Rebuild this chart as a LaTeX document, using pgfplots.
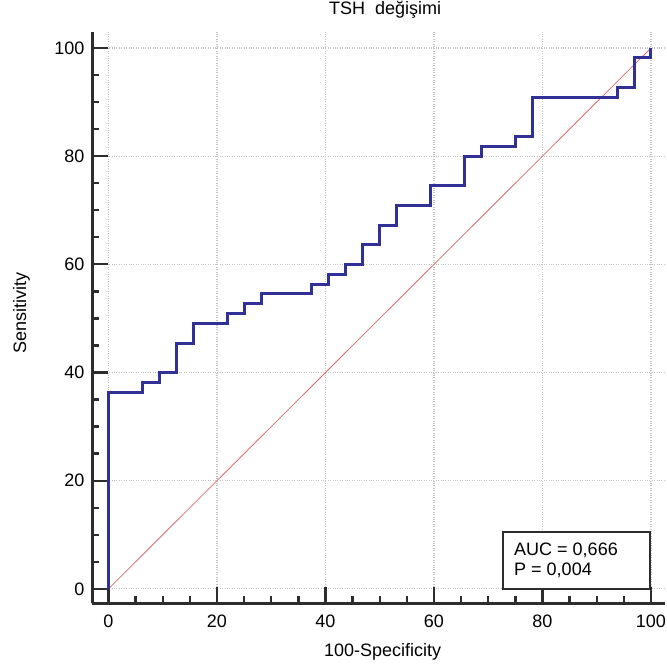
\documentclass[border=0pt]{standalone}
\usepackage{fontspec}
\setmainfont{Liberation Sans}
\usepackage{pgfplots}
\pgfplotsset{compat=1.18}

\definecolor{rocblue}{RGB}{48,48,150}
\definecolor{diagred}{RGB}{212,110,110}
\definecolor{axisgray}{RGB}{45,45,45}
\definecolor{gridgray}{RGB}{195,195,195}

\newcommand{\chartfont}{\fontsize{18}{22}\selectfont}

\begin{document}
\begin{tikzpicture}
\begin{axis}[
  width=572.5pt, height=571.5pt, scale only axis,
  xmin=-2.95, xmax=102.6, ymin=-2.68, ymax=103,
  clip=false,
  axis x line=bottom, axis y line=left,
  axis line style={-, line width=2.6pt, color=axisgray},
  xtick={0,20,...,100}, ytick={0,20,...,100},
  minor tick num=3,
  tick align=inside,
  major tick length=16pt, minor tick length=7pt,
  tick style={line width=2.3pt, color=axisgray},
  grid=major,
  major grid style={gridgray, dotted, line width=1.2pt},
  /pgf/number format/assume math mode=true,
  tick label style={font=\chartfont, text=black},
  xticklabel style={anchor=north, inner sep=0pt, yshift=-11.5pt},
  yticklabel style={anchor=east, inner sep=0pt, xshift=-8pt},
  title={TSH\ \ değişimi},
  title style={font=\chartfont, anchor=base, inner sep=0pt, at={(axis description cs:0.511,1.0198)}},
  xlabel={100-Specificity},
  xlabel style={font=\chartfont, anchor=base, inner sep=0pt, at={(axis description cs:0.5066,-0.0936)}},
  ylabel={Sensitivity},
  ylabel style={font=\chartfont, anchor=base, inner sep=0pt, rotate=0, at={(axis description cs:-0.116,0.508)}},
]
% reference diagonal
\addplot[diagred, line width=0.8pt] coordinates {(0,0) (100,100)};
% ROC curve
\addplot[rocblue, line width=3pt, sharp plot] coordinates {
(0,0) (0,36.36) (6.25,36.36) (6.25,38.18) (9.375,38.18) (9.375,40)
(12.5,40) (12.5,45.45) (15.625,45.45) (15.625,49.09) (21.875,49.09)
(21.875,50.91) (25,50.91) (25,52.73) (28.125,52.73) (28.125,54.55)
(37.5,54.55) (37.5,56.36) (40.625,56.36) (40.625,58.18) (43.75,58.18)
(43.75,60) (46.875,60) (46.875,63.64) (50,63.64) (50,67.27)
(53.125,67.27) (53.125,70.91) (59.375,70.91) (59.375,74.55)
(65.625,74.55) (65.625,80) (68.75,80) (68.75,81.82) (75,81.82)
(75,83.64) (78.125,83.64) (78.125,90.91) (93.75,90.91) (93.75,92.73)
(96.875,92.73) (96.875,98.18) (100,98.18) (100,100)
};
% AUC box
\draw[axisgray, line width=2pt, fill=white] (axis cs:72.7,0) rectangle (axis cs:99.8,10.5);
\node[anchor=base west, inner sep=0pt, font=\chartfont] at (axis cs:74.75,6.1) {AUC = 0,666};
\node[anchor=base west, inner sep=0pt, font=\chartfont] at (axis cs:74.75,2.4) {P = 0,004};
% page extent
\path (axis cs:-20,-14.42) rectangle (axis cs:102.95,108.87);
\end{axis}
\end{tikzpicture}
\end{document}
